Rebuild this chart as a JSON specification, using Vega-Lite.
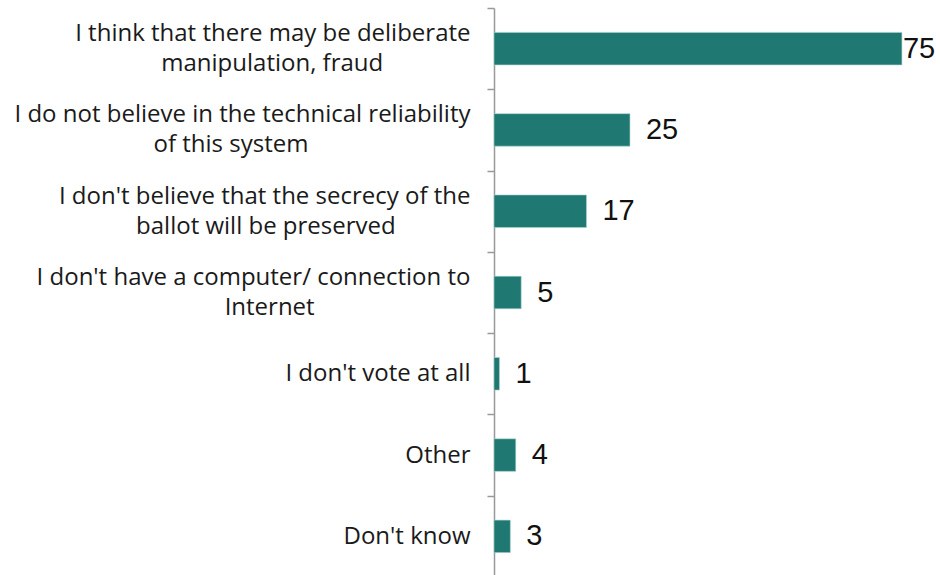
{
  "$schema": "https://vega.github.io/schema/vega-lite/v6.json",
  "width": 446,
  "height": 569,
  "autosize": {"type": "none"},
  "padding": {"left": 494, "top": 8, "right": 0, "bottom": 0},
  "background": "white",
  "config": {"view": {"stroke": null}},
  "data": {
    "values": [
      {"reason": "I think that there may be deliberate|manipulation, fraud", "value": 75},
      {"reason": "I do not believe in the technical reliability|of this system", "value": 25},
      {"reason": "I don't believe that the secrecy of the|ballot will be preserved", "value": 17},
      {"reason": "I don't have a computer/ connection to|Internet", "value": 5},
      {"reason": "I don't vote at all", "value": 1},
      {"reason": "Other", "value": 4},
      {"reason": "Don't know", "value": 3}
    ]
  },
  "encoding": {
    "y": {
      "field": "reason",
      "type": "nominal",
      "sort": null,
      "scale": {"paddingInner": 0, "paddingOuter": 0},
      "axis": {
        "title": null,
        "labelExpr": "indexof(datum.label, '|') < 0 ? datum.label : [split(datum.label, '|')[0], pad(split(datum.label, '|')[1], length(split(datum.label, '|')[1]) + round(0.83 * (length(split(datum.label, '|')[0]) - length(split(datum.label, '|')[1]))), '\u00a0') + '\u200b']",
        "labelFont": "Open Sans",
        "labelFontSize": 24,
        "labelColor": "#1a1a1a",
        "labelLineHeight": 30,
        "labelPadding": 17,
        "labelLimit": 600,
        "labelOffset": {"condition": {"test": "indexof(datum.label, '|') >= 0", "value": -15}, "value": 0},
        "tickBand": "extent",
        "tickSize": 7,
        "tickColor": "#999999",
        "domainColor": "#999999",
        "tickWidth": 1.5,
        "domainWidth": 1.5
      }
    },
    "x": {
      "field": "value",
      "type": "quantitative",
      "scale": {"domain": [0, 82], "nice": false},
      "axis": null
    }
  },
  "layer": [
    {"mark": {"type": "bar", "height": {"band": 0.4}, "color": "#1f7872", "stroke": "#a9d3cf", "strokeWidth": 0.6}},
    {
      "transform": [{"filter": "datum.value < 70"}],
      "mark": {"type": "text", "align": "left", "dx": 16, "font": "Liberation Sans", "fontSize": 29, "color": "#111111"},
      "encoding": {"text": {"field": "value", "type": "quantitative"}}
    },
    {
      "transform": [{"filter": "datum.value >= 70"}],
      "mark": {"type": "text", "align": "left", "dx": 1, "font": "Liberation Sans", "fontSize": 29, "color": "#111111"},
      "encoding": {"text": {"field": "value", "type": "quantitative"}}
    }
  ]
}
